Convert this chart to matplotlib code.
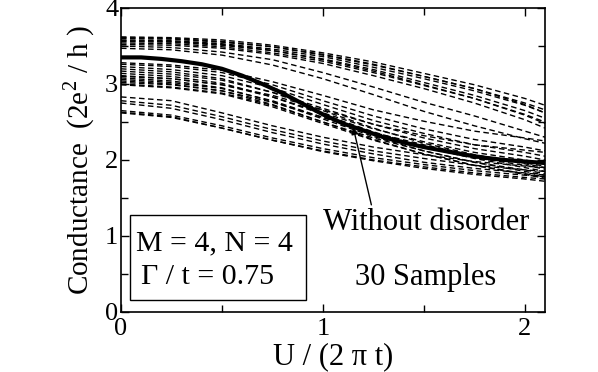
import numpy as np
import matplotlib
matplotlib.use("Agg")
import matplotlib.pyplot as plt
from matplotlib.patches import Rectangle
from matplotlib.ticker import MultipleLocator

plt.rcParams['font.family'] = ['Liberation Serif', 'DejaVu Serif']
plt.rcParams['mathtext.fontset'] = 'custom'
plt.rcParams['mathtext.rm'] = 'Liberation Serif'

# U / (2 pi t) sample points
u = [0, 0.25, 0.5, 0.75, 1.0, 1.25, 1.5, 1.75, 2.0, 2.1]
u_clean = [0, 0.1, 0.2, 0.3, 0.4, 0.5, 0.6, 0.7, 0.8, 0.9, 1.0,
           1.1, 1.2, 1.3, 1.4, 1.5, 1.6, 1.7, 1.8, 1.9, 2.0, 2.1]

# clean system
clean = [3.35, 3.35, 3.33, 3.30, 3.26, 3.20, 3.11, 3.00, 2.88, 2.74, 2.60,
         2.48, 2.39, 2.30, 2.23, 2.17, 2.12, 2.07, 2.03, 2.00, 1.98, 1.96]

# 30 disordered samples
samples = [
    [3.62, 3.61, 3.58, 3.51, 3.41, 3.29, 3.14, 2.99, 2.81, 2.72],
    [3.61, 3.60, 3.56, 3.49, 3.39, 3.26, 3.10, 2.94, 2.73, 2.62],
    [3.60, 3.59, 3.55, 3.49, 3.38, 3.25, 3.10, 2.94, 2.75, 2.66],
    [3.58, 3.57, 3.53, 3.46, 3.36, 3.22, 3.07, 2.91, 2.72, 2.62],
    [3.57, 3.56, 3.52, 3.44, 3.32, 3.17, 2.99, 2.81, 2.59, 2.48],
    [3.56, 3.55, 3.51, 3.44, 3.33, 3.19, 3.02, 2.85, 2.65, 2.55],
    [3.54, 3.53, 3.49, 3.41, 3.30, 3.15, 2.98, 2.81, 2.60, 2.50],
    [3.52, 3.51, 3.47, 3.39, 3.27, 3.11, 2.94, 2.75, 2.53, 2.42],
    [3.50, 3.48, 3.42, 3.32, 3.15, 2.96, 2.76, 2.58, 2.38, 2.30],
    [3.47, 3.45, 3.38, 3.25, 3.07, 2.86, 2.64, 2.45, 2.28, 2.22],
    [3.28, 3.25, 3.18, 3.03, 2.85, 2.66, 2.51, 2.38, 2.29, 2.25],
    [3.26, 3.23, 3.15, 2.99, 2.78, 2.58, 2.41, 2.27, 2.17, 2.12],
    [3.23, 3.19, 3.11, 2.95, 2.73, 2.52, 2.35, 2.20, 2.10, 2.05],
    [3.20, 3.16, 3.07, 2.89, 2.65, 2.42, 2.22, 2.07, 1.95, 1.90],
    [3.17, 3.13, 3.05, 2.89, 2.68, 2.47, 2.29, 2.15, 2.05, 2.00],
    [3.14, 3.10, 3.01, 2.83, 2.60, 2.37, 2.17, 2.02, 1.90, 1.85],
    [3.11, 3.07, 2.99, 2.83, 2.62, 2.41, 2.24, 2.10, 2.00, 1.95],
    [3.10, 3.07, 2.99, 2.85, 2.66, 2.47, 2.32, 2.20, 2.13, 2.10],
    [3.08, 3.04, 2.95, 2.77, 2.54, 2.31, 2.12, 1.97, 1.85, 1.80],
    [3.06, 3.02, 2.94, 2.78, 2.56, 2.35, 2.18, 2.03, 1.93, 1.88],
    [3.04, 3.00, 2.91, 2.73, 2.50, 2.27, 2.08, 1.93, 1.81, 1.76],
    [3.02, 2.99, 2.91, 2.76, 2.56, 2.36, 2.20, 2.06, 1.96, 1.92],
    [3.00, 2.96, 2.88, 2.72, 2.50, 2.29, 2.12, 1.97, 1.87, 1.82],
    [2.99, 2.95, 2.87, 2.70, 2.48, 2.26, 2.08, 1.93, 1.82, 1.78],
    [2.83, 2.78, 2.62, 2.45, 2.30, 2.17, 2.07, 1.98, 1.92, 1.90],
    [2.78, 2.72, 2.57, 2.40, 2.25, 2.12, 2.02, 1.93, 1.87, 1.85],
    [2.75, 2.68, 2.53, 2.36, 2.21, 2.08, 1.97, 1.89, 1.83, 1.80],
    [2.65, 2.59, 2.45, 2.29, 2.15, 2.03, 1.94, 1.86, 1.80, 1.78],
    [2.63, 2.57, 2.42, 2.26, 2.11, 1.99, 1.89, 1.81, 1.75, 1.72],
    [2.62, 2.56, 2.42, 2.26, 2.12, 2.00, 1.91, 1.83, 1.77, 1.75],
]

fig = plt.figure(figsize=(5.98, 3.72), dpi=100)
ax = fig.add_axes([0.2023, 0.1613, 0.7091, 0.8172])

for s in samples:
    ax.plot(u, s, color='black', lw=1.0, linestyle=(0, (4, 2.5)))
ax.plot(u_clean, clean, color='black', lw=3.0, solid_capstyle='butt')

ax.set_xlim(0, 2.1)
ax.set_ylim(0, 4)
ax.xaxis.set_major_locator(MultipleLocator(1))
ax.xaxis.set_minor_locator(MultipleLocator(0.5))
ax.yaxis.set_major_locator(MultipleLocator(1))
ax.yaxis.set_minor_locator(MultipleLocator(0.5))
ax.tick_params(which='both', direction='in', top=True, right=True,
               labelsize=19, width=1)
ax.tick_params(which='major', length=6)
ax.tick_params(which='minor', length=5)
ax.tick_params(axis='y', which='major', pad=2)
ax.tick_params(axis='x', which='major', pad=4)
for sp in ax.spines.values():
    sp.set_linewidth(1.2)

ax.set_xlabel('U / (2 π t)', fontsize=22, labelpad=2)
ax.set_ylabel(r'Conductance  (2e$^\mathregular{2}$ / h )', fontsize=21, labelpad=6)

ax.add_patch(Rectangle((0.045, 0.16), 0.87, 1.12, fill=False, lw=1.0,
                       edgecolor='black'))
ax.text(0.075, 0.90, 'M = 4, N = 4', fontsize=21.5, va='center', ha='left')
ax.text(0.10, 0.46, 'Γ / t = 0.75', fontsize=21.5, va='center', ha='left')

ax.annotate('', xy=(1.15, 2.43), xytext=(1.24, 1.41),
            arrowprops=dict(arrowstyle='-|>', color='black', lw=1.0,
                            mutation_scale=10, shrinkA=0, shrinkB=0))
ax.text(1.0, 1.18, 'Without disorder', fontsize=22, va='center', ha='left')
ax.text(1.16, 0.45, '30 Samples', fontsize=22, va='center', ha='left')

fig.savefig('out.png', dpi=100)
